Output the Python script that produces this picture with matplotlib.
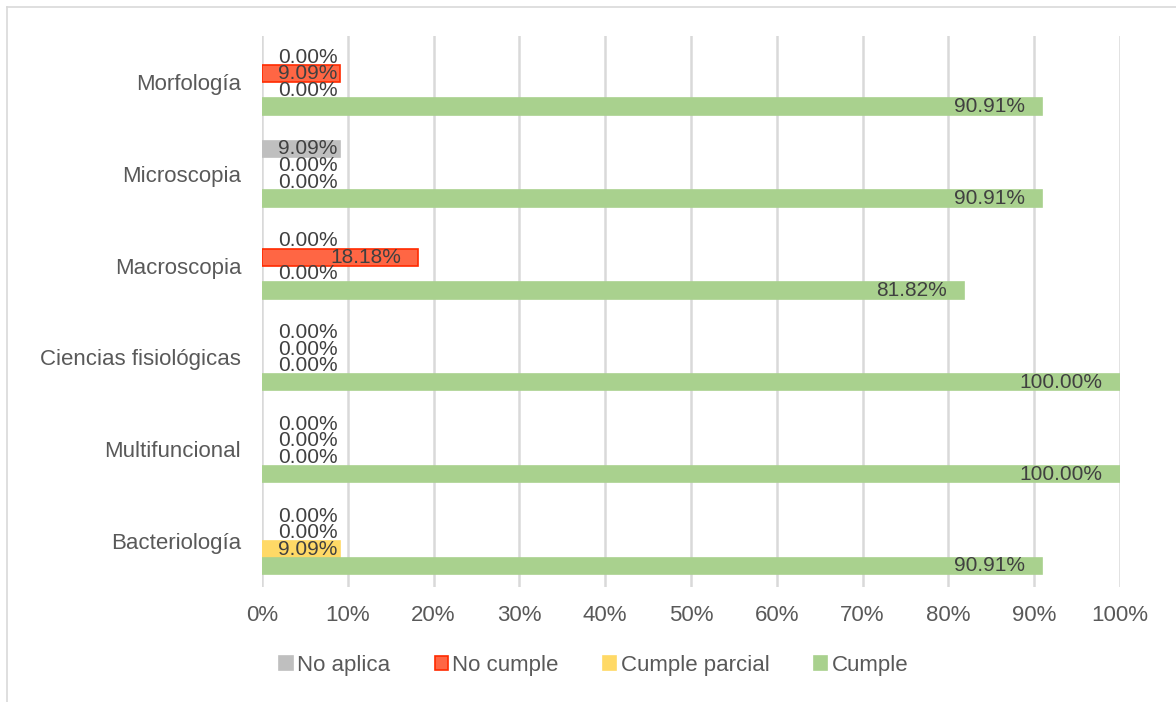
import matplotlib.pyplot as plt
import numpy as np
from matplotlib.lines import Line2D

plt.rcParams['font.family'] = ['Liberation Sans', 'DejaVu Sans']

# categories from bottom to top
categorias = ["Bacteriología", "Multifuncional", "Ciencias fisiológicas",
              "Macroscopia", "Microscopia", "Morfología"]

# series values in percent
no_aplica = [0.00, 0.00, 0.00, 0.00, 9.09, 0.00]
no_cumple = [0.00, 0.00, 0.00, 18.18, 0.00, 9.09]
cumple_parcial = [9.09, 0.00, 0.00, 0.00, 0.00, 0.00]
cumple = [90.91, 100.00, 100.00, 81.82, 90.91, 90.91]

series = [
    ("No aplica", no_aplica, "#BFBFBF", "#BFBFBF"),
    ("No cumple", no_cumple, "#FF6644", "#FF2A00"),
    ("Cumple parcial", cumple_parcial, "#FFD966", "#FFD966"),
    ("Cumple", cumple, "#A9D18E", "#A9D18E"),
]

fig = plt.figure(figsize=(11.76, 7.02), dpi=100)
ax = fig.add_axes([0.2228, 0.1638, 0.9524 - 0.2228, 0.9487 - 0.1638])

y = np.arange(len(categorias))
h = 0.18
offsets = [1.5 * h, 0.5 * h, -0.5 * h, -1.5 * h]

for (name, vals, color, edge), off in zip(series, offsets):
    lw = [1.2 if v > 0 else 0 for v in vals]
    ax.barh(y + off, vals, height=h, color=color, edgecolor=edge,
            linewidth=lw, label=name, zorder=3)
    # Excel style "inside end" labels, zero bars keep a minimum position
    for yi, v in zip(y, vals):
        xr = max(v - 2.0, 8.8)
        ax.text(xr, yi + off, f"{v:.2f}%", ha="right", va="center",
                fontsize=15, color="#404040", zorder=4)

ax.set_xlim(0, 100)
ax.set_ylim(-0.5, len(categorias) - 0.5)
ax.set_xticks(np.arange(0, 101, 10))
ax.set_xticklabels([f"{t}%" for t in range(0, 101, 10)])
ax.set_yticks(y)
ax.set_yticklabels(categorias)
ax.tick_params(axis="both", length=0, labelsize=16, labelcolor="#595959")
ax.tick_params(axis="x", pad=13)
ax.tick_params(axis="y", pad=15)
ax.grid(axis="x", color="#D9D9D9", linewidth=1.8, zorder=0)
for s in ax.spines.values():
    s.set_visible(False)

handles = [plt.Rectangle((0, 0), 1, 1, facecolor=c, edgecolor=e, linewidth=1.2)
           for _, _, c, e in series]
fig.legend(handles, [s[0] for s in series], loc="center",
           bbox_to_anchor=(0.505, 1 - 665 / 702), ncol=4, frameon=False,
           fontsize=16, labelcolor="#595959", handlelength=0.6,
           handleheight=0.6, handletextpad=0.2, columnspacing=2.0)

# chart frame
fig.add_artist(Line2D([7 / 1176, 7 / 1176], [0, 1 - 7 / 702],
                      transform=fig.transFigure, color="#D9D9D9", linewidth=1.2))
fig.add_artist(Line2D([7 / 1176, 1], [1 - 7 / 702, 1 - 7 / 702],
                      transform=fig.transFigure, color="#D9D9D9", linewidth=1.2))

fig.savefig("out.png", dpi=100)
